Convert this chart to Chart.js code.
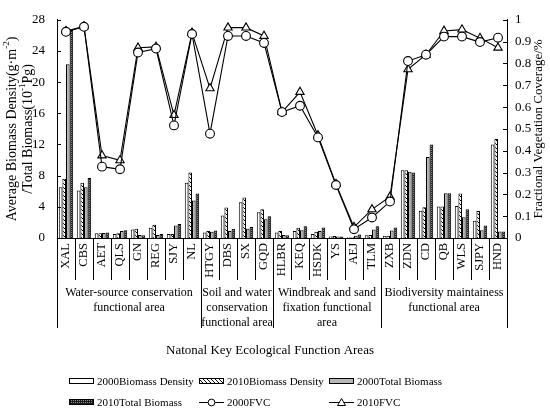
<!DOCTYPE html>
<html><head><meta charset="utf-8">
<script src="https://cdn.jsdelivr.net/npm/chart.js@4/dist/chart.umd.min.js"></script>
<style>html,body{margin:0;padding:0;background:#fff;overflow:hidden}canvas{display:block}</style>
</head><body>
<canvas id="c" width="550" height="409"></canvas>
<script>
// ---------------- data ----------------
const categories = ['XAL','CBS','AET','QLS','GN','REG','SJY','NL','HTGY','DBS','SX','GQD','HLBR','KEQ','HSDK','YS','AEJ','TLM','ZXB','ZDN','CD','QB','WLS','SJPY','HND'];
const density2000 = [6.5,6.1,0.6,0.5,1.1,1.3,0.5,7.1, 0.7,2.9,4.6,3.3, 0.7,0.9,0.5,0.2,0.1,0.35, 0.3,8.7,3.5,4.05,4.1,2.2,12.0];
const density2010 = [7.6,7.1,0.6,0.6,1.2,1.7,0.5,8.4, 0.9,3.9,5.2,3.7, 0.9,1.3,0.8,0.25,0.1,0.4, 0.3,8.7,3.95,4.05,5.7,3.45,12.7];
const total2000   = [22.3,6.5,0.65,0.9,0.4,0.4,1.6,4.8, 0.8,0.9,1.2,2.4, 0.4,1.0,0.9,0.2,0.3,1.1, 0.95,8.5,10.4,5.75,2.65,1.0,0.85];
const total2010   = [26.7,7.7,0.7,1.0,0.35,0.5,1.8,5.7, 0.95,1.2,1.4,2.8, 0.35,1.5,1.35,0.2,0.45,1.5, 1.35,8.4,12.0,5.75,3.7,1.6,0.85];
const fvc2000 = [0.945,0.968,0.327,0.315,0.85,0.868,0.516,0.935, 0.478,0.926,0.926,0.894, 0.577,0.606,0.461,0.243,0.04,0.094, 0.167,0.811,0.84,0.923,0.923,0.898,0.918];
const fvc2010 = [0.948,0.97,0.378,0.356,0.872,0.876,0.563,0.94, 0.686,0.964,0.964,0.926, 0.577,0.669,0.47,0.247,0.05,0.131, 0.189,0.773,0.84,0.949,0.955,0.916,0.872];
const groupLabels = [
  ['Water-source conservation','functional area'],
  ['Soil and water','conservation','functional area'],
  ['Windbreak and sand','fixation functional','area'],
  ['Biodiversity maintainess','functional area']
];
const groupSizes = [8,4,6,7];
const leftTicks = [0,4,8,12,16,20,24,28];
const rightTicks = [0,0.1,0.2,0.3,0.4,0.5,0.6,0.7,0.8,0.9,1];
const seriesNames = ['2000Biomass Density','2010Biomass Density','2000Total Biomass','2010Total Biomass','2000FVC','2010FVC'];
const xTitle = 'Natonal Key Ecological Function Areas';
const rightTitle = 'Fractional Vegetation Coverage/%';

// ---------------- styles ----------------
const FONT = "'Liberation Serif','Times New Roman',serif";
Chart.defaults.font.family = FONT;
Chart.defaults.color = '#000';
const canvas = document.getElementById('c');
const ctx0 = canvas.getContext('2d');
function makePattern(w,h,draw){
  const c=document.createElement('canvas'); c.width=w; c.height=h;
  const g=c.getContext('2d'); draw(g); return ctx0.createPattern(c,'repeat');
}
const hatch = makePattern(4,4,g=>{
  g.fillStyle='#fff'; g.fillRect(0,0,4,4);
  g.fillStyle='#000';
  for(let i=0;i<4;i++) g.fillRect(i,i,1,1);
});
const darkPat = makePattern(2,2,g=>{
  g.fillStyle='#1a1a1a'; g.fillRect(0,0,2,2);
  g.fillStyle='#8a8a8a'; g.fillRect(1,0,1,1);
});
const greyFill = '#b8b8b8';

function barDs(label,data,fill){
  return {type:'bar',label,data,backgroundColor:fill,borderColor:'#000',borderWidth:1,
    categoryPercentage:0.8,barPercentage:1.0,yAxisID:'y',order:2};
}
function lineDs(label,data,style,r){
  return {type:'line',label,data,yAxisID:'y2',borderColor:'#000',borderWidth:1.1,
    pointStyle:style,pointRadius:r,pointBorderWidth:1.1,pointBorderColor:'#000',
    pointBackgroundColor:'#fff',fill:false,tension:0,order:0};
}

// ---------------- decorations plugin ----------------
function drawRich(ctx, parts, size){
  let w=0;
  parts.forEach(p=>{ctx.font=(p.sup?size*0.65:size)+'px '+FONT; p.w=ctx.measureText(p.t).width; w+=p.w;});
  let x=-w/2;
  parts.forEach(p=>{
    ctx.font=(p.sup?size*0.65:size)+'px '+FONT;
    ctx.fillText(p.t,x,p.sup?-size*0.35:0); x+=p.w;
  });
}
const decor = {
  id:'decor',
  afterDraw(chart){
    const {ctx, chartArea:a, scales} = chart;
    const x=scales.x, y=scales.y, y2=scales.y2;
    ctx.save();
    ctx.strokeStyle='#000'; ctx.fillStyle='#000'; ctx.lineWidth=1;
    const seg=(x1,y1,x2,y2_)=>{ctx.beginPath();ctx.moveTo(x1,y1);ctx.lineTo(x2,y2_);ctx.stroke();};
    // inward ticks
    y.ticks.forEach(t=>{const py=Math.round(y.getPixelForValue(t.value))+0.5; seg(a.left,py,a.left+4,py);});
    y2.ticks.forEach(t=>{const py=Math.round(y2.getPixelForValue(t.value))+0.5; seg(a.right-4,py,a.right,py);});
    // category separators & group boundaries
    const n=categories.length;
    const bpx=i=> i===0?a.left : i===n?a.right : (x.getPixelForValue(i-1)+x.getPixelForValue(i))/2;
    const groupEdges=[0]; groupSizes.forEach(s=>groupEdges.push(groupEdges[groupEdges.length-1]+s));
    for(let i=0;i<=n;i++){
      const px=Math.round(bpx(i))+0.5;
      const isGroup=groupEdges.includes(i);
      seg(px,a.bottom,px,a.bottom+(isGroup?90:42));
    }
    // group labels
    ctx.font='12px '+FONT; ctx.textAlign='center'; ctx.textBaseline='middle';
    groupLabels.forEach((lines,gi)=>{
      const cx=(bpx(groupEdges[gi])+bpx(groupEdges[gi+1]))/2;
      lines.forEach((ln,li)=>ctx.fillText(ln,cx,a.bottom+55+li*14.8));
    });
    // x title
    ctx.font='13px '+FONT;
    ctx.fillText(xTitle,270,351);
    // right title
    ctx.save(); ctx.translate(539,(a.top+a.bottom)/2); ctx.rotate(-Math.PI/2);
    ctx.font='13px '+FONT; ctx.fillText(rightTitle,0,0); ctx.restore();
    // left title (two lines, with superscripts)
    ctx.save(); ctx.translate(12,(a.top+a.bottom)/2); ctx.rotate(-Math.PI/2);
    ctx.textAlign='left';
    drawRich(ctx,[{t:'Average Biomass Density(g·m'},{t:'-2',sup:true},{t:')'}],14);
    ctx.restore();
    ctx.save(); ctx.translate(28,(a.top+a.bottom)/2); ctx.rotate(-Math.PI/2);
    ctx.textAlign='left';
    drawRich(ctx,[{t:'/Total Biomass(10'},{t:'-1',sup:true},{t:'Pg)'}],14);
    ctx.restore();
    // legend (3-column grid)
    const cols=[69,199,329], rows=[381,402];
    ctx.font='11px '+FONT; ctx.textAlign='left'; ctx.textBaseline='middle';
    const ds=chart.data.datasets;
    ds.forEach((d,i)=>{
      const cx=cols[i%3], cy=rows[Math.floor(i/3)];
      if(d.type==='bar'){
        ctx.fillStyle=d.backgroundColor; ctx.fillRect(cx,cy-3,25,6);
        ctx.strokeRect(cx+0.5,cy-2.5,24,5);
      } else {
        seg(cx,cy+0.5,cx+25,cy+0.5);
        ctx.save(); ctx.fillStyle='#fff';
        if(d.pointStyle==='circle'){ctx.beginPath();ctx.arc(cx+12.5,cy+0.5,3.4,0,Math.PI*2);ctx.fill();ctx.stroke();}
        else {ctx.beginPath();ctx.moveTo(cx+12.5,cy-3.5);ctx.lineTo(cx+16.5,cy+3.5);ctx.lineTo(cx+8.5,cy+3.5);ctx.closePath();ctx.fill();ctx.stroke();}
        ctx.restore();
      }
      ctx.fillStyle='#000';
      ctx.fillText(d.label,cx+28,cy+1);
    });
    ctx.restore();
  }
};

new Chart(canvas,{
  data:{
    labels:categories,
    datasets:[
      barDs(seriesNames[0],density2000,'#fff'),
      barDs(seriesNames[1],density2010,hatch),
      barDs(seriesNames[2],total2000,greyFill),
      barDs(seriesNames[3],total2010,darkPat),
      lineDs(seriesNames[4],fvc2000,'circle',4.4),
      lineDs(seriesNames[5],fvc2010,'triangle',4.8)
    ]
  },
  options:{
    responsive:false, animation:false, devicePixelRatio:1,
    layout:{padding:{top:9,left:0,right:0,bottom:0}},
    plugins:{legend:{display:false},tooltip:{enabled:false}},
    scales:{
      x:{type:'category',offset:true,
        grid:{display:false,drawTicks:false},
        border:{display:true,color:'#000',width:1},
        ticks:{autoSkip:false,minRotation:90,maxRotation:90,padding:5,font:{size:12.5,family:FONT},color:'#000'},
        afterFit:s=>{s.height=171;}
      },
      y:{position:'left',min:0,max:28,
        grid:{display:false,drawTicks:false},
        border:{display:true,color:'#000',width:1},
        afterBuildTicks:s=>{s.ticks=leftTicks.map(v=>({value:v}));},
        ticks:{padding:12,font:{size:13,family:FONT},color:'#000',callback:v=>String(v)},
        afterFit:s=>{s.width=57;}
      },
      y2:{position:'right',min:0,max:1,
        grid:{display:false,drawTicks:false},
        border:{display:true,color:'#000',width:1},
        afterBuildTicks:s=>{s.ticks=rightTicks.map(v=>({value:v}));},
        ticks:{padding:8,font:{size:13,family:FONT},color:'#000',callback:v=>String(+(+v).toFixed(1))},
        afterFit:s=>{s.width=43;}
      }
    }
  },
  plugins:[decor]
});
</script>
</body></html>
